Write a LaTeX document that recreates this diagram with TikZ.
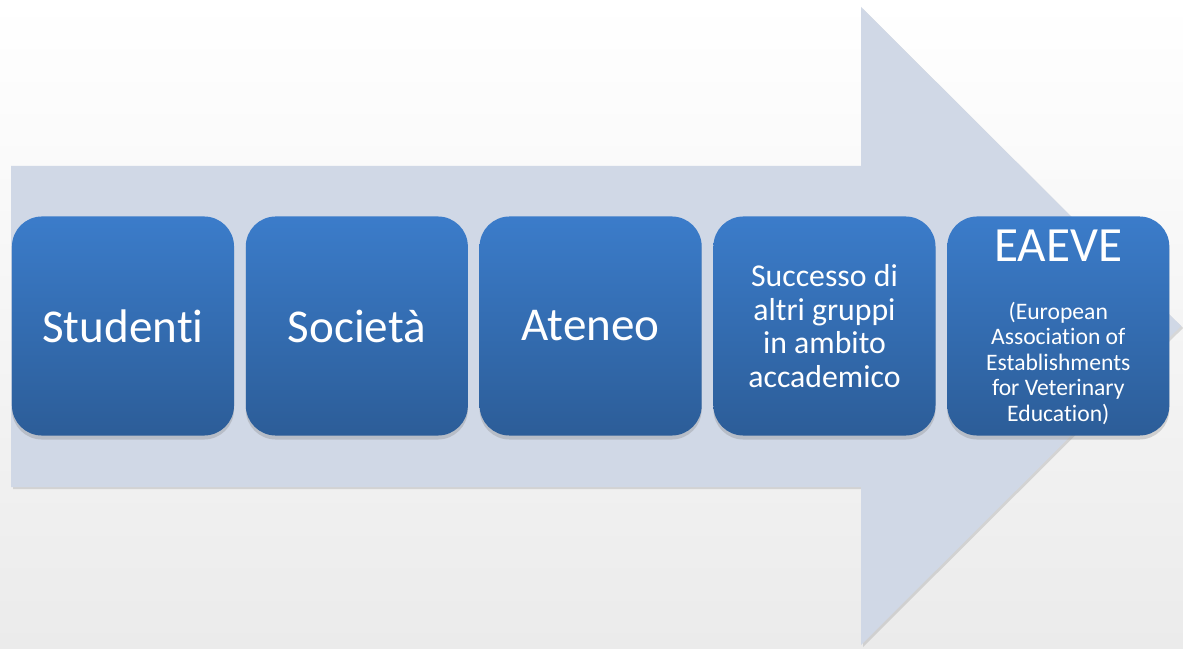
\documentclass[tikz,border=0pt]{standalone}
\usepackage{fontspec}
\setmainfont{Carlito}[Ligatures=NoCommon]
\usetikzlibrary{positioning,shadows}
\definecolor{bgbottom}{HTML}{EBEBEB}
\definecolor{arrowfill}{HTML}{D0D8E6}
\definecolor{stagetop}{HTML}{3B7CCA}
\definecolor{stagebottom}{HTML}{2C5D98}
\tikzset{
  stage/.style={
    rounded corners=0.75cm, minimum width=5.55cm, minimum height=5.475cm,
    inner sep=0pt, top color=stagetop, bottom color=stagebottom,
    text=white, align=center,
    drop shadow={opacity=.3, shadow xshift=0pt, shadow yshift=-0.1cm}
  },
  bigtext/.style={font=\fontsize{33.5}{40}\selectfont},
  midtext/.style={font=\fontsize{22.6}{24}\selectfont},
  smalltext/.style={font=\fontsize{16.8}{18.1}\selectfont}
}

\begin{document}
\begin{tikzpicture}[x=0.025cm,y=-0.025cm]
    \useasboundingbox (0,0) rectangle (1183,649);
    \shade[top color=white, bottom color=bgbottom] (0,0) rectangle (1183,649);

    % big arrow behind the stages
    \fill[arrowfill, drop shadow={opacity=.25, shadow xshift=.05cm, shadow yshift=-.05cm}]
      (11,166) -- (861,166) -- (861,7) -- (1181,326) -- (861,645) -- (861,487) -- (11,487) -- cycle;

    \node[stage, bigtext] (studenti) at (123,326) {Studenti};
    \node[stage, bigtext, right=0.28cm of studenti] (societa) {Società};
    \node[stage, bigtext, right=0.28cm of societa] (ateneo) {Ateneo};
    \node[stage, midtext, right=0.28cm of ateneo] (successo) {Successo di\\altri gruppi\\in ambito\\accademico};
    \node[stage, right=0.28cm of successo] (eaeve) {};

    \node[text=white, font=\fontsize{35}{40}\selectfont] (eaevetitle) at ([yshift=-0.75cm]eaeve.north) {EAEVE};
    \node[smalltext, text=white, align=center] (eaevetext) at ([yshift=-3.675cm]eaeve.north)
      {(European\\Association of\\Establishments\\for Veterinary\\Education)};
\end{tikzpicture}
\end{document}
